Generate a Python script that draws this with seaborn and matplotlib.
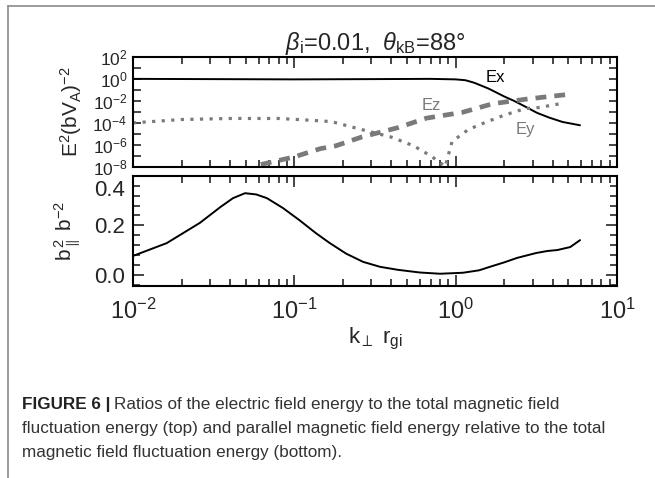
import numpy as np
import matplotlib
matplotlib.use("Agg")
import matplotlib.pyplot as plt
import matplotlib.transforms as mtrans
import seaborn as sns
import pandas as pd
from matplotlib.lines import Line2D
from matplotlib.ticker import FixedLocator, LogFormatterMathtext, NullFormatter, MultipleLocator

sns.set_style("ticks")
plt.rcParams['font.family'] = ['Liberation Sans', 'DejaVu Sans']
plt.rcParams['mathtext.fontset'] = 'custom'
plt.rcParams['mathtext.rm'] = 'Liberation Sans'
plt.rcParams['mathtext.it'] = 'Liberation Sans:italic'
plt.rcParams['mathtext.bf'] = 'Liberation Sans:bold'

# --- data ---
ex_k = [0.01, 0.03, 0.1, 0.3, 0.7, 1.0, 1.15, 1.3, 1.6, 2.0, 2.3, 2.7, 3.2, 3.8, 4.6, 5.9]
ex_v = [1.0, 0.95, 0.9, 0.95, 1.0, 0.9, 0.75, 0.45, 0.13, 0.025, 0.01, 0.003, 8e-4, 3e-4,
        1.2e-4, 6e-5]

ez_k = [0.062, 0.068, 0.1, 0.145, 0.18, 0.26, 0.44, 0.66, 1.1, 1.7, 2.8, 5.1]
ez_v = [1.6e-8, 2.2e-8, 8e-8, 4.5e-7, 8e-7, 5e-6, 3.7e-5, 2.7e-4, 9e-4, 5.5e-3, 1.5e-2, 4e-2]

ey_k = [0.01, 0.02, 0.04, 0.08, 0.12, 0.17, 0.26, 0.4, 0.55, 0.7, 0.8, 0.86, 0.95,
        1.2, 1.55, 2.0, 2.7, 3.3, 4.6]
ey_v = [1e-4, 2e-4, 2.5e-4, 2.5e-4, 1.8e-4, 1.3e-4, 2.5e-5, 5e-6, 8e-7, 1e-7, 2.5e-8, 1e-8,
        2e-6, 2.5e-5, 1.2e-4, 5e-4, 2e-3, 2.5e-3, 6e-3]

bpar_k = [0.01, 0.0162, 0.026, 0.035, 0.0417, 0.0495, 0.058, 0.0676, 0.085, 0.108, 0.135,
          0.166, 0.21, 0.267, 0.34, 0.437, 0.6, 0.8, 1.11, 1.4, 1.63, 2.0, 2.4, 3.16,
          3.7, 4.27, 5.13, 5.9]
bpar_v = [0.076, 0.128, 0.21, 0.275, 0.31, 0.33, 0.325, 0.31, 0.27, 0.22, 0.17,
          0.128, 0.085, 0.052, 0.032, 0.02, 0.009, 0.004, 0.008, 0.018, 0.032, 0.05, 0.068,
          0.088, 0.096, 0.1, 0.112, 0.14]

x_ticks = [1e-2, 1e-1, 1e0, 1e1]
top_yticks = [1e2, 1e0, 1e-2, 1e-4, 1e-6, 1e-8]
bot_yticks = [0.0, 0.2, 0.4]

df_ex = pd.DataFrame({"k": ex_k, "v": ex_v})
df_ez = pd.DataFrame({"k": ez_k, "v": ez_v})
df_ey = pd.DataFrame({"k": ey_k, "v": ey_v})
df_b = pd.DataFrame({"k": bpar_k, "v": bpar_v})

fig = plt.figure(figsize=(6.55, 4.78), dpi=100)
ax1 = fig.add_axes([0.203, 0.651, 0.739, 0.230])
ax2 = fig.add_axes([0.203, 0.402, 0.739, 0.230])

grey = "#7a7a7a"
sns.lineplot(data=df_ex, x="k", y="v", ax=ax1, color="black", lw=1.4, estimator=None, sort=False)
sns.lineplot(data=df_ez, x="k", y="v", ax=ax1, color=grey, lw=3.4, estimator=None, sort=False)
ax1.lines[-1].set_dashes([2.3, 1.7])
ax1.lines[-1].set_dash_capstyle("butt")
sns.lineplot(data=df_ey, x="k", y="v", ax=ax1, color=grey, lw=2.3, estimator=None, sort=False)
ax1.lines[-1].set_dashes([1.0, 2.0])
ax1.lines[-1].set_dash_capstyle("butt")

sns.lineplot(data=df_b, x="k", y="v", ax=ax2, color="black", lw=1.4, estimator=None, sort=False)

ax1.text(1.75, 1.4, "Ex", color="black", fontsize=12, ha="center", va="center")
ax1.text(0.71, 3.5e-3, "Ez", color=grey, fontsize=12, ha="center", va="center")
ax1.text(2.7, 2.5e-5, "Ey", color=grey, fontsize=12, ha="center", va="center")

for ax in (ax1, ax2):
    ax.set_xscale("log")
    ax.set_xlim(1e-2, 1e1)
    ax.set_xticks(x_ticks)
    ax.tick_params(which="both", direction="in", top=True, right=True, width=1.2)
    ax.tick_params(which="major", length=8)
    ax.tick_params(which="minor", length=5)
    for s in ax.spines.values():
        s.set_linewidth(1.5)
        s.set_color("black")
    ax.set_xlabel("")
    ax.set_ylabel("")

ax1.set_yscale("log")
ax1.set_ylim(1e-8, 1e2)
ax1.yaxis.set_major_locator(FixedLocator(top_yticks))
ax1.yaxis.set_minor_locator(FixedLocator([1e1, 1e-1, 1e-3, 1e-5, 1e-7]))
ax1.yaxis.set_major_formatter(LogFormatterMathtext())
ax1.yaxis.set_minor_formatter(NullFormatter())
ax1.tick_params(axis="y", which="both", length=6)
ax1.tick_params(axis="y", labelsize=12.5, pad=4)
ax1.xaxis.set_major_formatter(NullFormatter())
ax1.xaxis.set_minor_formatter(NullFormatter())

ax2.set_ylim(-0.045, 0.4)
ax2.set_yticks(bot_yticks)
ax2.set_yticklabels(["0.0", "0.2", "0.4"])
ax2.yaxis.set_minor_locator(MultipleLocator(0.04))
ax2.tick_params(axis="y", which="major", length=8)
ax2.tick_params(axis="y", which="minor", length=5)
ax2.tick_params(axis="y", labelsize=16, pad=6)
ax2.tick_params(axis="x", labelsize=17, pad=9)
ax2.xaxis.set_major_formatter(LogFormatterMathtext())
ax2.xaxis.set_minor_formatter(NullFormatter())

# nudge the top label of the lower panel down, as in the original
fig.canvas.draw()
for lab in ax2.get_yticklabels():
    if lab.get_position()[1] >= 0.39:
        lab.set_transform(lab.get_transform()
                          + mtrans.ScaledTranslation(0, -9 / 72, fig.dpi_scale_trans))

ax1.set_title(r"$\beta_{\rm i}$=0.01,  $\theta_{\rm kB}$=88°", fontsize=17, pad=3)
ax1.set_ylabel(r"E$^2$(bV$_{\rm A}$)$^{-2}$", fontsize=15, labelpad=6)
ax2.set_ylabel(r"b$_{\parallel}^{\,2}$ b$^{-2}$", fontsize=15, labelpad=8)
ax2.set_xlabel(r"k$_\perp$ r$_{\rm gi}$", fontsize=16, labelpad=2)

# page frame lines
fig.add_artist(Line2D([8 / 655, 1], [1 - 6 / 478, 1 - 6 / 478], color="#8a8a8a", lw=1.2))
fig.add_artist(Line2D([8 / 655, 8 / 655], [0, 1 - 6 / 478], color="#8a8a8a", lw=1.2))

# caption
cap_font = ['Liberation Sans Narrow', 'Liberation Sans', 'DejaVu Sans']
cap_size = 12.3
x0 = 22 / 655
y1 = 1 - 405 / 478
t = fig.text(x0, y1, "FIGURE 6 |", fontsize=cap_size, fontweight="bold", family=cap_font,
             va="center", color="#222222")
fig.canvas.draw()
bb = t.get_window_extent(fig.canvas.get_renderer())
fig.text(bb.x1 / fig.bbox.width + 0.006, y1,
         "Ratios of the electric field energy to the total magnetic field",
         fontsize=cap_size, family=cap_font, va="center", color="#333333")
fig.text(x0, 1 - 429 / 478,
         "fluctuation energy (top) and parallel magnetic field energy relative to the total",
         fontsize=cap_size, family=cap_font, va="center", color="#333333")
fig.text(x0, 1 - 453 / 478, "magnetic field fluctuation energy (bottom).",
         fontsize=cap_size, family=cap_font, va="center", color="#333333")

fig.savefig("out.png", dpi=100)
